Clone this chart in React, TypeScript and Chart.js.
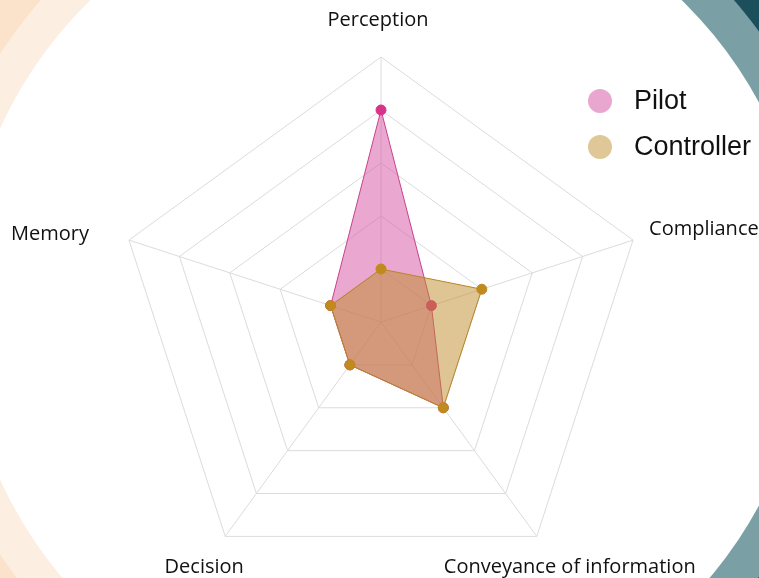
import React, { useEffect, useRef } from "react";
import { Chart, registerables } from "chart.js";

Chart.register(...registerables);

const categories = ["Perception", "Compliance", "Conveyance of information", "Decision", "Memory"];
const pilotValues = [4, 1, 2, 1, 1];
const controllerValues = [1, 2, 2, 1, 1];
const seriesNames = ["Pilot", "Controller"];
const scaleMax = 5;

const labelOffsets = [
  { dx: -3, dy: -37, align: "center" },
  { dx: 16, dy: -11, align: "left" },
  { dx: 33, dy: 31, align: "center" },
  { dx: -21, dy: 31, align: "center" },
  { dx: -40, dy: -6, align: "right" },
];

const backgroundPlugin = {
  id: "bgDeco",
  beforeDraw(chart: any) {
    const ctx = chart.ctx;
    const w = chart.width;
    const h = chart.height;
    const cx = 386, cy = 304;
    ctx.save();
    ctx.fillStyle = "#fbe2ca";
    ctx.fillRect(0, 0, cx, h);
    ctx.fillStyle = "#1c4f5c";
    ctx.fillRect(cx, 0, w - cx, h);
    ctx.beginPath();
    ctx.arc(cx, cy, 460, Math.PI / 2, (Math.PI * 3) / 2);
    ctx.closePath();
    ctx.fillStyle = "#fdeee2";
    ctx.fill();
    ctx.beginPath();
    ctx.arc(cx, cy, 462, -Math.PI / 2, Math.PI / 2);
    ctx.closePath();
    ctx.fillStyle = "#7a9fa4";
    ctx.fill();
    ctx.beginPath();
    ctx.arc(cx, cy, 424, 0, Math.PI * 2);
    ctx.fillStyle = "#ffffff";
    ctx.fill();
    ctx.restore();
  },
};

const labelsPlugin = {
  id: "customLabels",
  afterDraw(chart: any) {
    const scale = chart.scales.r;
    const ctx = chart.ctx;
    ctx.save();
    ctx.font = '20px "Open Sans", sans-serif';
    ctx.fillStyle = "#111111";
    ctx.textBaseline = "middle";
    (chart.data.labels as string[]).forEach((lab, i) => {
      const p = scale.getPointPosition(i, scale.drawingArea);
      const o = labelOffsets[i];
      ctx.textAlign = o.align;
      ctx.fillText(lab, p.x + o.dx, p.y + o.dy);
    });
    const legendColors = ["#e9a7cf", "#dfc797"];
    const ys = [101, 147];
    ctx.font = '27px "Liberation Sans", Arial, sans-serif';
    ctx.textAlign = "left";
    chart.data.datasets.forEach((ds: any, i: number) => {
      ctx.beginPath();
      ctx.arc(600, ys[i], 12, 0, Math.PI * 2);
      ctx.fillStyle = legendColors[i];
      ctx.fill();
      ctx.fillStyle = "#111111";
      ctx.fillText(ds.label, 634, ys[i] + 1);
    });
    ctx.restore();
  },
};

export default function App() {
  const canvasRef = useRef<HTMLCanvasElement | null>(null);

  useEffect(() => {
    document.body.style.margin = "0";
    const chart = new Chart(canvasRef.current as HTMLCanvasElement, {
      type: "radar",
      data: {
        labels: categories,
        datasets: [
          {
            label: seriesNames[0],
            data: pilotValues,
            backgroundColor: "rgba(214,80,160,0.5)",
            borderColor: "#c9428e",
            borderWidth: 1,
            pointBackgroundColor: "#d6338a",
            pointBorderColor: "#d6338a",
            pointRadius: 5,
            order: 1,
          },
          {
            label: seriesNames[1],
            data: controllerValues,
            backgroundColor: "rgba(190,140,40,0.5)",
            borderColor: "#b8862a",
            borderWidth: 1,
            pointBackgroundColor: "#c08a1e",
            pointBorderColor: "#c08a1e",
            pointRadius: 5,
            order: 0,
          },
        ],
      },
      options: {
        animation: false,
        responsive: true,
        maintainAspectRatio: false,
        layout: { padding: { left: 116, right: 113, top: 57, bottom: 63 } },
        plugins: { legend: { display: false }, tooltip: { enabled: false } },
        elements: { line: { tension: 0 } },
        scales: {
          r: {
            min: 0,
            max: scaleMax,
            ticks: { display: false, stepSize: 1 },
            grid: { color: "#dcdcdc", lineWidth: 1 },
            angleLines: { color: "#dcdcdc", lineWidth: 1 },
            pointLabels: { display: false },
          },
        },
      },
      plugins: [backgroundPlugin, labelsPlugin],
    });
    return () => chart.destroy();
  }, []);

  return (
    <div style={{ position: "fixed", left: 0, top: 0, width: 759, height: 578, overflow: "hidden", background: "#fff" }}>
      <div style={{ position: "absolute", left: 0, top: 0, width: 759, height: 650 }}>
        <canvas ref={canvasRef} />
      </div>
    </div>
  );
}
